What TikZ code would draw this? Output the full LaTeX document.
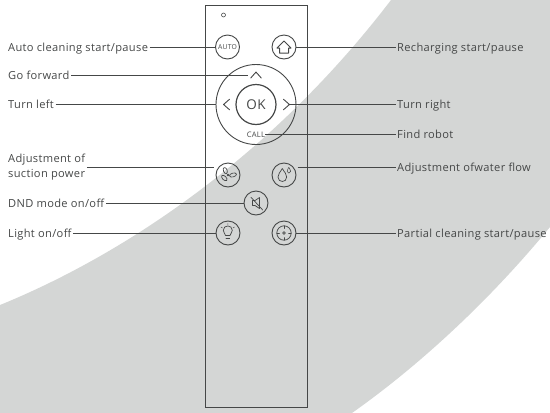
\documentclass[tikz,border=0pt]{standalone}
\usepackage{fontspec}
\setmainfont[LetterSpace=3.0]{Open Sans}
\usetikzlibrary{calc,shapes}
\definecolor{backgray}{HTML}{D4D6D5}
\definecolor{linegray}{HTML}{454747}
\tikzset{
    label/.style={text=linegray, inner sep=1.5pt, text height=8pt, text depth=0pt, font=\fontsize{11.1}{14.7}\selectfont},
    lead/.style={draw=linegray, line width=0.7pt},
    btn/.style={circle, draw=linegray, line width=0.9pt, minimum size=24pt, inner sep=0pt},
    icon/.style={draw=linegray, line width=0.7pt, line cap=round, line join=round},
    chev/.style={inner sep=0pt, minimum width=10pt, minimum height=5.5pt},
    small/.style={text=linegray, inner sep=0pt, font=\fontsize{7.6}{9}\selectfont}
}
\begin{document}
\begin{tikzpicture}[x=1pt, y=-1pt]
    \useasboundingbox (0, 0) rectangle (550, 413);
    \fill[backgray] (391, 0) -- (550, 0) -- (550, 227)
        .. controls (490, 300) and (420, 365) .. (352, 413)
        -- (0, 413) -- (0, 305)
        .. controls (130, 252) and (275, 152) .. (391, 0) -- cycle;

    % remote
    \node[draw=linegray, line width=0.85pt, minimum width=102pt, minimum height=402pt, inner sep=0pt] (remote) at (256, 206) {};
    \node[circle, draw=linegray, line width=0.6pt, minimum size=4pt, inner sep=0pt] (led) at (223.5, 15) {};
    \node[btn, text=linegray, font=\fontsize{6.8}{8}\selectfont] (auto) at (227.5, 47) {AUTO};
    \node[btn] (home) at (284, 47) {};
    \node[btn, minimum size=80pt] (pad) at (256, 104.5) {};
    \node[btn, minimum size=40pt, line width=1.2pt, text=linegray, font=\fontsize{13.5}{15}\selectfont] (ok) at (256, 104.5) {OK};
    \node[small] (call) at (256, 134.5) {CALL};
    \node[chev] (up) at (256, 75) {};
    \node[chev, minimum width=5.5pt, minimum height=10pt] (left) at (226.5, 104.5) {};
    \node[chev, minimum width=5.5pt, minimum height=10pt] (right) at (286.5, 104.5) {};
    \node[btn] (fan) at (228, 175) {};
    \node[btn] (water) at (284, 175) {};
    \node[btn] (dnd) at (256, 203) {};
    \node[btn] (light) at (228, 233) {};
    \node[btn] (partial) at (284, 233) {};

    % arrows of the pad
    \draw[icon, line width=0.9pt] (up.south west) -- (up.north) -- (up.south east);
    \draw[icon, line width=0.9pt] (left.north east) -- (left.west) -- (left.south east);
    \draw[icon, line width=0.9pt] (right.north west) -- (right.east) -- (right.south west);

    % icons
    \draw[icon, line width=1pt] (277, 48) -- (284, 41) -- (291, 48) -- (288.5, 48) -- (288.5, 53) -- (279.5, 53) -- (279.5, 48) -- cycle;

    \draw[icon] (225.3, 170.6) ellipse[x radius=3.2, y radius=1.9, rotate=-70];
    \draw[icon] (233, 175) ellipse[x radius=3.6, y radius=1.9, rotate=15];
    \draw[icon] (224.3, 178) ellipse[x radius=3.4, y radius=1.9, rotate=-45];
    \draw[icon] (228, 175) circle[radius=0.8];

    \draw[icon] (282.3, 168.5) .. controls (280, 172.5) and (278, 174) .. (278, 177)
        .. controls (278, 183) and (286.7, 183) .. (286.7, 177)
        .. controls (286.7, 174) and (284.6, 172.5) .. (282.3, 168.5) -- cycle;
    \draw[icon, line width=0.5pt] (288.8, 167.3) .. controls (288, 169) and (287.2, 170) .. (287.2, 171.3)
        .. controls (287.2, 173.8) and (290.6, 173.8) .. (290.6, 171.3)
        .. controls (290.6, 170) and (289.6, 169) .. (288.8, 167.3) -- cycle;

    \draw[icon] (252.5, 200.5) -- (255, 200.5) -- (259.5, 197.5) -- (259.5, 208.5) -- (255, 205.5) -- (252.5, 205.5) -- cycle;
    \draw[icon] (251, 197.3) -- (262.7, 210);

    \draw[icon] (225.5, 235.5) .. controls (225, 233) and (223.3, 232.5) .. (223.3, 230.3)
        .. controls (223.3, 224.5) and (232.3, 224.5) .. (232.3, 230.3)
        .. controls (232.3, 232.5) and (230.5, 233) .. (230, 235.5) -- cycle;
    \draw[icon] (226, 238) -- (229.6, 238);
    \draw[icon, line width=0.5pt] (221, 227) -- (222.5, 228) (234.5, 227) -- (233, 228) (227.8, 223.5) -- (227.8, 224.5);

    \draw[icon] (284, 233) circle[radius=7.2];
    \draw[icon] (284, 233) circle[radius=1.4];
    \draw[icon, line width=0.5pt] (284, 225.8) -- (284, 228.5) (284, 240.2) -- (284, 237.5) (276.8, 233) -- (279.5, 233) (291.2, 233) -- (288.5, 233);

    % labels on the left
    \node[label, anchor=west] (lblauto) at (6.5, 47) {Auto cleaning start/pause};
    \node[label, anchor=west] (lblup) at (6.5, 75) {Go forward};
    \node[label, anchor=west] (lblleft) at (6.5, 104.5) {Turn left};
    \node[label, anchor=west, align=left] (lblfan) at (6.5, 173.5) {Adjustment of\\suction power};
    \node[label, anchor=west] (lbldnd) at (6.5, 203) {DND mode on/off};
    \node[label, anchor=west] (lbllight) at (6.5, 233) {Light on/off};

    % labels on the right
    \node[label, anchor=west] (lblhome) at (395.5, 47) {Recharging start/pause};
    \node[label, anchor=west] (lblright) at (395.5, 104.5) {Turn right};
    \node[label, anchor=west] (lblcall) at (395.5, 134.5) {Find robot};
    \node[label, anchor=west] (lblwater) at (395.5, 167.5) {Adjustment ofwater flow};
    \node[label, anchor=west] (lblpartial) at (395.5, 233) {Partial cleaning start/pause};

    \coordinate (fanend) at (213.5, 167.5);
    \coordinate (waterend) at (297.5, 167.5);
    \coordinate (upend) at (248, 75);

    \draw[lead] (lblauto) -- (auto);
    \draw[lead] (lblup) -- (upend);
    \draw[lead] (lblleft) -- (pad);
    \draw[lead] (lblfan.east |- fanend) -- (fanend);
    \draw[lead] (lbldnd) -- (dnd);
    \draw[lead] (lbllight) -- (light);
    \draw[lead] (home) -- (lblhome);
    \draw[lead] (right) -- (lblright);
    \draw[lead] (call) -- (lblcall);
    \draw[lead] (waterend) -- (lblwater);
    \draw[lead] (partial) -- (lblpartial);
\end{tikzpicture}
\end{document}
